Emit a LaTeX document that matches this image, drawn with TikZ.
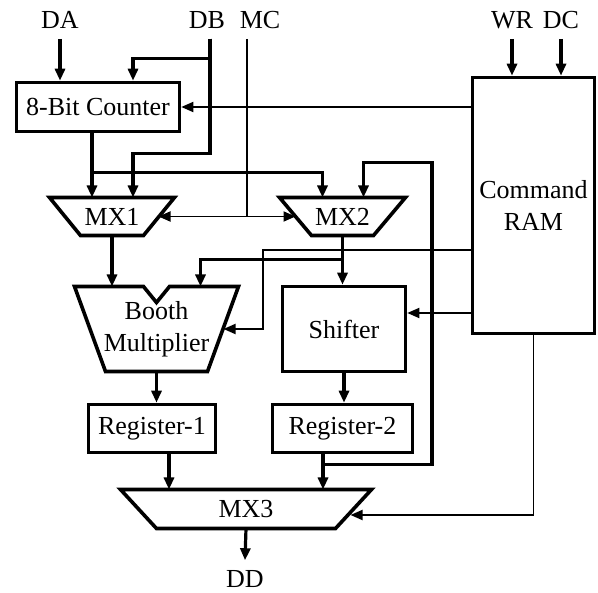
\documentclass[tikz,border=0pt]{standalone}
\usepackage{fontspec}
\setmainfont{Liberation Serif}
\usepackage{tikz}
\usetikzlibrary{arrows.meta}
\usetikzlibrary{calc}

\begin{document}
\begin{tikzpicture}[x=1pt,y=-1pt,>={Triangle[length=12pt,width=10pt]},font=\fontsize{26}{32}\selectfont]
		\tikzstyle{block}=[rectangle,draw,line width=3.6pt,inner sep=0pt,align=center];
		\tikzstyle{mux}=[rectangle,inner sep=0pt,outer sep=0pt,minimum height=38pt,align=center];
		\tikzstyle{muxline}=[line width=3.6pt,line join=miter];
		\tikzstyle{sig}=[inner xsep=2pt,inner ysep=10pt];
		\tikzstyle{data}=[line width=3.2pt];
		\tikzstyle{ctrl}=[line width=1.8pt];
		\useasboundingbox (0,0) rectangle (598,593);

		\node[sig](da) at (60,20){DA};
		\node[sig](db) at (207,20){DB};
		\node[sig](mc) at (260,20){MC};
		\node[sig](wr) at (512,20){WR};
		\node[sig](dc) at (561,20){DC};
		\node[sig](dd) at (245,579){DD};

		\node[block,minimum width=163pt,minimum height=49pt](cnt) at (98,107){8-Bit Counter};
		\node[block,minimum width=122pt,minimum height=256pt](ram) at (533.5,205.5){Command\\RAM};
		\node[mux,minimum width=125pt](mx1) at (112,216.5){MX1};
		\node[mux,minimum width=126pt](mx2) at (342.5,216.5){MX2};
		\node[mux,minimum width=164pt,minimum height=85pt](booth) at (156.5,329){Booth\\Multiplier};
		\node[block,minimum width=123pt,minimum height=85pt](shf) at (344,329){Shifter};
		\node[block,minimum width=127pt,minimum height=48pt](reg1) at (152,428.5){Register-1};
		\node[block,minimum width=140pt,minimum height=48pt](reg2) at (342.5,428.5){Register-2};
		\node[mux,minimum width=251pt,minimum height=39pt](mx3) at (246,509){MX3};

		\draw[muxline](mx1.north west)--(mx1.north east)--([xshift=-31pt]mx1.south east)--([xshift=31pt]mx1.south west)--cycle;
		\draw[muxline](mx2.north west)--(mx2.north east)--([xshift=-32pt]mx2.south east)--([xshift=32pt]mx2.south west)--cycle;
		\draw[muxline](mx3.north west)--(mx3.north east)--([xshift=-36pt]mx3.south east)--([xshift=36pt]mx3.south west)--cycle;
		\draw[muxline](booth.north west)--([xshift=-13pt]booth.north)--([yshift=-16pt]booth.north)--([xshift=13pt]booth.north)
			--(booth.north east)--([xshift=-31pt]booth.south east)--([xshift=31pt]booth.south west)--cycle;

		\coordinate(cin) at ([xshift=35pt]cnt.north);
		\coordinate(m1a) at ([xshift=-20pt]mx1.north);
		\coordinate(m1b) at ([xshift=21pt]mx1.north);
		\coordinate(m2a) at ([xshift=-20pt]mx2.north);
		\coordinate(m2b) at ([xshift=21pt]mx2.north);
		\coordinate(r1o) at ([xshift=17pt]reg1.south);
		\coordinate(r2o) at ([xshift=-19.5pt]reg2.south);
		\coordinate(sin) at ([yshift=16pt]shf.east);

		\draw[data,->](da.south)--(da.south|-cnt.north);
		\draw[data,->]([xshift=3pt]db.south)--+(0,20)-|(cin);
		\draw[data,->]([xshift=3pt]db.south)--+(0,115)-|(m1b);
		\draw[data,->](wr.south)--(wr.south|-ram.north);
		\draw[data,->](dc.south)--(dc.south|-ram.north);
		\draw[ctrl,->](ram.west|-cnt.east)--(cnt.east);

		\draw[data,->](m1a|-cnt.south)--(m1a);
		\draw[data,->](m1a|-cnt.south)--+(0,39)-|(m2a);
		\draw[data,->](r2o)--+(0,10)-|+(109,-292)-|(m2b);
		\draw[ctrl]([xshift=-13pt]mc.south)--([xshift=-13pt]mc.south|-mx1.east);
		\draw[ctrl,<->]([xshift=-16pt]mx1.east)--([xshift=16pt]mx2.west);

		\draw[data,->](mx1.south)--(mx1.south|-booth.north);
		\draw[data,->](mx2.south)--(mx2.south|-shf.north);
		\draw[data,->](mx2.south)--+(0,24)-|([xshift=44pt]booth.north);
		\draw[ctrl,->]([yshift=-44.5pt]ram.west)--+(-208,0)|-([xshift=-15pt]booth.east);
		\draw[ctrl,->](sin-|ram.west)--(sin);

		\draw[data,->](booth.south)--(booth.south|-reg1.north);
		\draw[data,->](shf.south)--(shf.south|-reg2.north);
		\draw[data,->](r1o)--(r1o|-mx3.north);
		\draw[data,->](r2o)--(r2o|-mx3.north);
		\draw[ctrl,->](ram.south)|-([xshift=-21pt,yshift=-6pt]mx3.east);
		\draw[data,->](mx3.south)--(dd.north);
	\end{tikzpicture}
\end{document}
